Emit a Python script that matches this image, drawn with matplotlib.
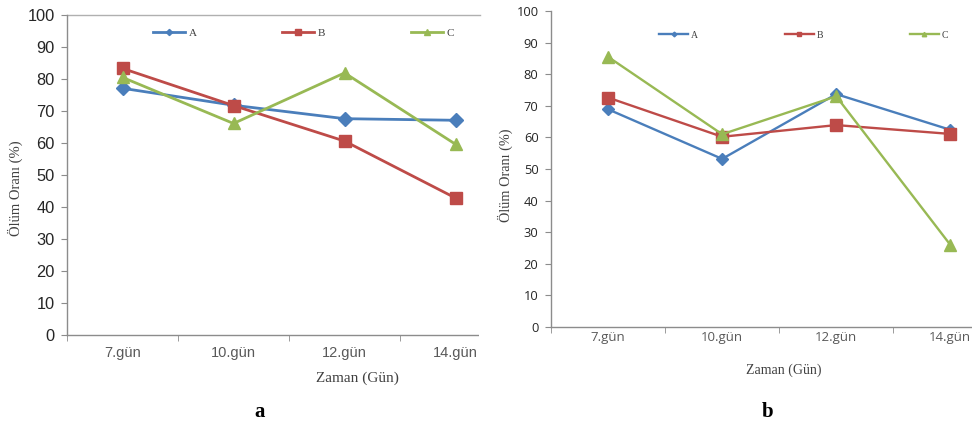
import matplotlib.pyplot as plt
from matplotlib.patches import Rectangle

# Data
days = ['7.gün', '10.gün', '12.gün', '14.gün']
series = ['A', 'B', 'C']

a_A = [77.1, 71.8, 67.6, 67.1]
a_B = [83.3, 71.7, 60.6, 42.8]
a_C = [80.5, 66.1, 81.9, 59.6]

b_A = [68.9, 53.2, 73.7, 62.4]
b_B = [72.6, 60.2, 63.9, 61.1]
b_C = [85.5, 61.0, 73.0, 26.0]

colors = ['#4a7ebb', '#be4b48', '#98b954']
markers = ['D', 's', '^']

W, H = 972, 426
fig = plt.figure(figsize=(W / 100, H / 100), dpi=100)
fig.patch.set_facecolor('white')


def px(l, t, r, b):
    return [l / W, 1 - b / H, (r - l) / W, (b - t) / H]


def style(ax, tickfont, ytsize, xtsize, xpad, toplines):
    for s in ['top', 'right']:
        ax.spines[s].set_visible(False)
    for s in ['left', 'bottom']:
        ax.spines[s].set_color('#8c8c8c')
        ax.spines[s].set_linewidth(1.0)
    ax.set_yticks(range(0, 101, 10))
    ax.set_xticks(range(len(days)))
    ax.set_xticklabels(days)
    ax.set_xticks([-0.5, 0.5, 1.5, 2.5, 3.5], minor=True)
    ax.tick_params(axis='x', which='major', length=0, pad=xpad)
    ax.tick_params(axis='x', which='minor', length=4, color='#8c8c8c', direction='out')
    ax.tick_params(axis='y', length=4, color='#8c8c8c', direction='out', pad=5)
    for lab in ax.get_yticklabels():
        lab.set_fontfamily(tickfont)
        lab.set_fontsize(ytsize)
        lab.set_color('#262626')
    for lab in ax.get_xticklabels():
        lab.set_fontfamily(tickfont)
        lab.set_fontsize(xtsize)
        lab.set_color('#595959')
    if toplines:
        ax.axhline(100, color='#b0b0b0', lw=1.0, clip_on=False)


# ---- panel a ----
axa = fig.add_axes(px(67, 15, 480, 335))
xs = range(len(days))
for vals, c, m, ms, name in zip([a_A, a_B, a_C], colors, markers, [7, 8.5, 8.5], series):
    axa.plot(xs, vals, color=c, lw=2.0, marker=m, ms=ms, label=name, clip_on=False)
style(axa, 'Liberation Sans', 11.8, 10.5, 8, True)
axa.set_xlim(-0.5, 3.22)
axa.set_ylim(0, 100)
leg = axa.legend(ncol=3, loc='center left', bbox_to_anchor=(153 / W, 1 - 33 / H),
                 bbox_transform=fig.transFigure, frameon=False,
                 prop={'family': 'Liberation Serif', 'size': 8},
                 handlelength=2.9, handletextpad=0.3, columnspacing=7.7,
                 markerscale=0.45, borderpad=0, borderaxespad=0)
for t in leg.get_texts():
    t.set_color('#404040')
fig.text(15 / W, 1 - 188 / H, 'Ölüm Oranı (%)', rotation=90, ha='center', va='center',
         family='Liberation Serif', fontsize=10.5, color='#404040')
fig.text(357 / W, 1 - 378 / H, 'Zaman (Gün)', ha='center', va='center',
         family='Liberation Serif', fontsize=11, color='#404040')
fig.text(260 / W, 1 - 412 / H, 'a', ha='center', va='center',
         family='Liberation Serif', fontsize=15, fontweight='bold')

# ---- panel b ----
axb = fig.add_axes(px(551, 11, 972, 327))
for vals, c, m, ms, name in zip([b_A, b_B, b_C], colors, markers, [6, 8, 8], series):
    axb.plot(xs, vals, color=c, lw=1.7, marker=m, ms=ms, label=name, clip_on=False)
style(axb, 'Open Sans', 9.3, 9.5, 3, False)
axb.set_xlim(-0.5, 3.19)
axb.set_ylim(0, 100)
leg = axb.legend(ncol=3, loc='center left', bbox_to_anchor=(659 / W, 1 - 35 / H),
                 bbox_transform=fig.transFigure, frameon=False,
                 prop={'family': 'Liberation Serif', 'size': 7},
                 handlelength=3.0, handletextpad=0.3, columnspacing=8.9,
                 markerscale=0.4, borderpad=0, borderaxespad=0)
for t in leg.get_texts():
    t.set_color('#404040')
fig.text(505 / W, 1 - 175 / H, 'Ölüm Oranı (%)', rotation=90, ha='center', va='center',
         family='Liberation Serif', fontsize=10.3, color='#404040')
fig.text(784 / W, 1 - 370 / H, 'Zaman (Gün)', ha='center', va='center',
         family='Liberation Serif', fontsize=10, color='#404040')
fig.text(768 / W, 1 - 412 / H, 'b', ha='center', va='center',
         family='Liberation Serif', fontsize=15, fontweight='bold')

# panel a is cropped on its right side in the original figure
fig.patches.append(Rectangle((479 / W, 1 - 365 / H), 12 / W, 60 / H,
                             transform=fig.transFigure, facecolor='white',
                             edgecolor='none', zorder=10))

fig.savefig('out.png', dpi=100)
